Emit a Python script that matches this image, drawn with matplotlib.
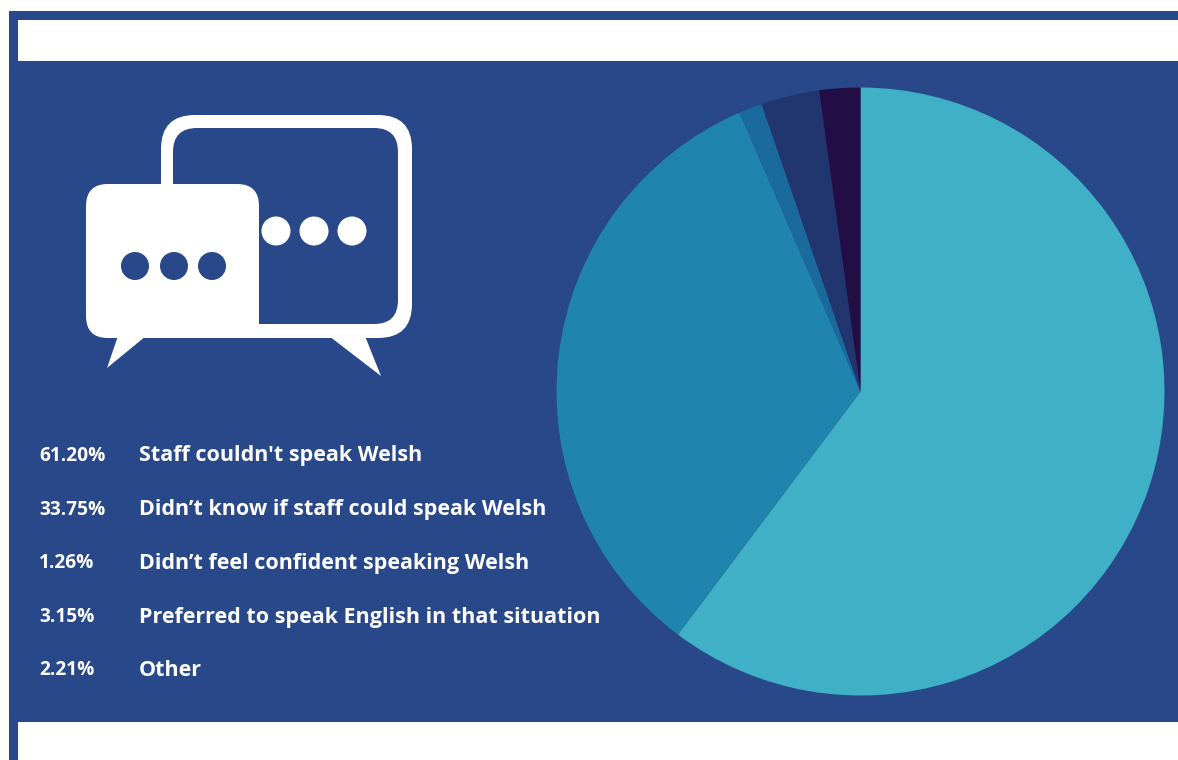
import matplotlib.pyplot as plt
from matplotlib.patches import Circle, FancyBboxPatch, Polygon, Rectangle

percentages = [61.20, 33.75, 1.26, 3.15, 2.21]
reasons = [
    "Staff couldn't speak Welsh",
    "Didn\u2019t know if staff could speak Welsh",
    "Didn\u2019t feel confident speaking Welsh",
    "Preferred to speak English in that situation",
    "Other",
]
slice_colors = ['#3fb0c6', '#1f84ae', '#1b6a9e', '#21366f', '#220d45']

WIDTH, HEIGHT = 1178, 760
NAVY = '#28488a'
WHITE = '#ffffff'

fig = plt.figure(figsize=(WIDTH / 100, HEIGHT / 100), dpi=100, facecolor=WHITE)

# Full-figure axes in pixel units for the panel, icon and text
bg = fig.add_axes([0, 0, 1, 1])
bg.set_xlim(0, WIDTH)
bg.set_ylim(HEIGHT, 0)
bg.axis('off')

bg.add_patch(Rectangle((9, 11), WIDTH - 9, 711, color=NAVY, lw=0))
bg.add_patch(Rectangle((9, 722), 9, HEIGHT - 722, color=NAVY, lw=0))
bg.add_patch(Rectangle((18, 20), WIDTH - 18, 41, color=WHITE, lw=0))


def rounded(x0, y0, x1, y1, radius, color):
    bg.add_patch(FancyBboxPatch((x0 + radius, y0 + radius),
                                x1 - x0 - 2 * radius, y1 - y0 - 2 * radius,
                                boxstyle=f'round,pad={radius},rounding_size={radius}',
                                fc=color, ec='none', lw=0))


# Back speech bubble (outlined)
rounded(161, 115, 412, 338, 34, WHITE)
rounded(173, 128, 398, 324, 24, NAVY)
bg.add_patch(Polygon([(329, 336), (381, 376), (365, 336)], fc=WHITE, ec='none'))
for cx in (276, 314, 352):
    bg.add_patch(Circle((cx, 231), 14.5, fc=WHITE, ec='none'))

# Front speech bubble (solid), its lower right corner runs into the back outline
rounded(86, 184, 259, 338, 22, WHITE)
bg.add_patch(Rectangle((235, 315), 24, 23, fc=WHITE, ec='none'))
bg.add_patch(Polygon([(118, 336), (107, 368), (146, 336)], fc=WHITE, ec='none'))
for cx in (135, 174, 212):
    bg.add_patch(Circle((cx, 266), 14, fc=NAVY, ec='none'))

# Legend rows
row_y = [456, 510, 563, 617, 670]
for y, pct, reason in zip(row_y, percentages, reasons):
    bg.text(39, y, f'{pct:.2f}%', color=WHITE, fontsize=13.8, fontweight='bold',
            family='Open Sans', va='center', ha='left')
    bg.text(139, y, reason, color=WHITE, fontsize=15.5, fontweight='bold',
            family='Open Sans', va='center', ha='left')

# Pie, centred at (860.5, 391.5) with a 304 px radius
cx, cy, r = 860.5, 391.5, 304
ax = fig.add_axes([(cx - r) / WIDTH, 1 - (cy + r) / HEIGHT, 2 * r / WIDTH, 2 * r / HEIGHT])
ax.pie(percentages, colors=slice_colors, startangle=90, counterclock=False, radius=1,
       wedgeprops={'linewidth': 0})
ax.set_xlim(-1, 1)
ax.set_ylim(-1, 1)

fig.savefig('out.png', dpi=100)
